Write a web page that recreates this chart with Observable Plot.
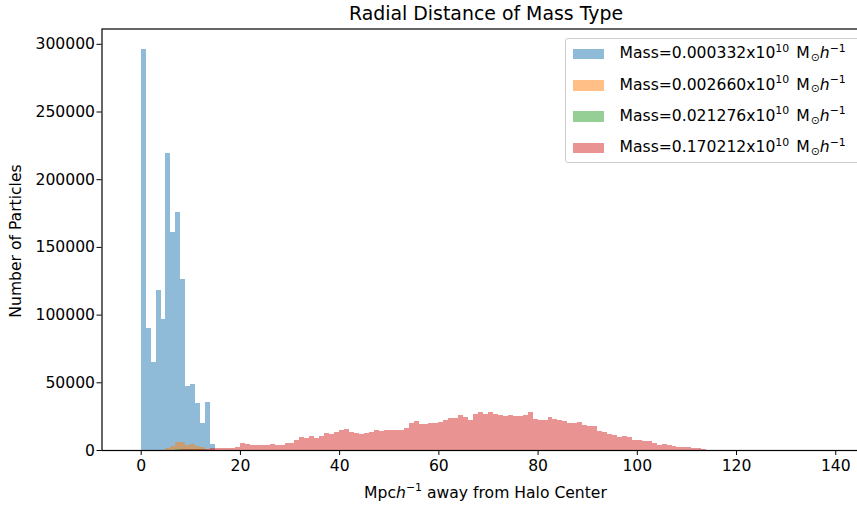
<!DOCTYPE html>
<html><head><meta charset="utf-8">
<script src="https://cdn.jsdelivr.net/npm/d3@7"></script>
<script src="https://cdn.jsdelivr.net/npm/@observablehq/plot@0.6"></script>
<style>
html,body{margin:0;padding:0;background:#fff;overflow:hidden;width:857px;height:509px}
body{font-family:"DejaVu Sans",sans-serif;color:#000;position:relative}
#title{height:24px;position:relative}
#title span{position:absolute;left:486px;top:4px;transform:translateX(-50%);font-size:18.9px;white-space:nowrap;line-height:1}
#chart{height:456px;width:870px;overflow:hidden}
#chart svg{display:block;max-width:none !important;width:870px !important;height:456px !important}
#xlabel{height:29px;position:relative}
#xlabel span{position:absolute;left:485.5px;top:6px;transform:translateX(-50%);font-size:15.6px;white-space:nowrap;line-height:1}
#ylabel{position:absolute;left:17px;top:241px;transform:translate(-50%,-50%) rotate(-90deg);font-size:15.6px;white-space:nowrap;line-height:1}
#legend{position:absolute;left:565px;top:37.5px;width:320px;height:125px;border:1px solid #ccc;border-radius:3px;background:rgba(255,255,255,0.8);box-sizing:border-box}
.row{position:absolute;left:0;height:0}
.patch{position:absolute;left:7px;width:30.6px;height:10.7px}
.ltext{position:absolute;left:53.5px;font-size:15.6px;line-height:1;white-space:nowrap}
sup,sub{font-size:70%;line-height:0;vertical-align:0;position:relative}
sup{top:-0.62em}
sub{top:0.22em;margin-left:1px}
.sp{margin-left:2px}
</style>
</head><body>
<div id="title"><span>Radial Distance of Mass Type</span></div>
<div id="chart"></div>
<div id="xlabel"><span>Mpc<i>h</i><sup>−1</sup> away from Halo Center</span></div>
<div id="ylabel">Number of Particles</div>
<div id="legend"></div>
<script>
// ---- data (bin width = 1 Mpc/h, counts per bin) ----
const blueStart = 0;
const blueCounts = [296500, 89900, 65200, 118200, 96500, 219100, 161200, 175500, 126000, 47300, 48500, 35000, 19700, 35700, 4200];

const orangeStart = 4;
const orangeCounts = [300, 1400, 3200, 6000, 6000, 3500, 4500, 3300, 1900, 900, 400];

const greenStart = 6;
const greenCounts = [300, 600, 1000, 900, 1000, 800, 600, 300];

const redStart = 7;
const redCounts = [300, 500, 700, 900, 1000, 1000, 1100, 1300,
  1700, 1700, 1700, 1700, 2400, 5500, 4400, 3400, 3400, 3400, 3400, 4500, 3400, 3400,
  5400, 5500, 7300, 9500, 8700, 10300, 8900, 10300, 12300, 11600, 13000, 14800, 15500,
  13500, 12300, 11600, 12300, 13000, 14800, 13800, 14500, 14500, 14500, 14500, 16300,
  20000, 21400, 19300, 19300, 19700, 19700, 20400, 22200, 23900, 23900, 25500, 24600,
  22500, 26300, 28000, 26500, 28000, 26500, 25800, 25300, 25500, 24900, 24900, 26100,
  28200, 23200, 22200, 22200, 24600, 23200, 22500, 21700, 20200, 20200, 20400, 18500,
  17900, 17700, 14000, 13300, 11900, 11100, 9800, 10300, 9700, 7400, 7300, 6700, 6500,
  5400, 3800, 4600, 3500, 2700, 2000, 2000, 2000, 1200, 1200, 1000];

const seriesNames = [
  "Mass=0.000332x10<sup>10</sup><span class='sp'> </span>M<sub>⊙</sub><i>h</i><sup>−1</sup>",
  "Mass=0.002660x10<sup>10</sup><span class='sp'> </span>M<sub>⊙</sub><i>h</i><sup>−1</sup>",
  "Mass=0.021276x10<sup>10</sup><span class='sp'> </span>M<sub>⊙</sub><i>h</i><sup>−1</sup>",
  "Mass=0.170212x10<sup>10</sup><span class='sp'> </span>M<sub>⊙</sub><i>h</i><sup>−1</sup>"
];
const seriesColors = ["#1f77b4", "#ff7f0e", "#2ca02c", "#d62728"];

const xTicks = [0, 20, 40, 60, 80, 100, 120, 140];
const yTicks = [0, 50000, 100000, 150000, 200000, 250000, 300000];

// ---- build bins ----
function bins(start, counts) {
  return counts.map((c, i) => ({x1: start + i, x2: start + i + 1, y: c}));
}
const series = [
  bins(blueStart, blueCounts),
  bins(orangeStart, orangeCounts),
  bins(greenStart, greenCounts),
  bins(redStart, redCounts)
];

const chart = Plot.plot({
  width: 870,
  height: 456,
  marginLeft: 101.5,
  marginRight: 2,
  marginTop: 4.5,
  marginBottom: 30,
  style: {fontFamily: "DejaVu Sans", fontSize: "15.6px", color: "black", background: "white"},
  x: {domain: [-7.9, 146.6], label: null},
  y: {domain: [0, 311300], label: null},
  marks: [
    ...series.map((d, k) => Plot.rectY(d, {
      x1: "x1", x2: "x2", y: "y",
      fill: seriesColors[k], fillOpacity: 0.5, shapeRendering: "crispEdges"
    })),
    Plot.axisX({ticks: xTicks, tickSize: 5, tickPadding: 4, tickFormat: d => String(d), label: null}),
    Plot.axisY({ticks: yTicks, tickSize: 5, tickPadding: 2, tickFormat: d => String(d), label: null}),
    Plot.frame({stroke: "black", strokeWidth: 1.2})
  ]
});
document.getElementById("chart").appendChild(chart);

// ---- legend ----
const legend = document.getElementById("legend");
const rowCenters = [15.5, 47, 78.3, 109.5];
seriesNames.forEach((name, k) => {
  const row = document.createElement("div");
  row.className = "row";
  row.style.top = rowCenters[k] + "px";
  const p = document.createElement("div");
  p.className = "patch";
  p.style.top = "-5.35px";
  p.style.background = seriesColors[k];
  p.style.opacity = 0.5;
  const t = document.createElement("div");
  t.className = "ltext";
  t.style.top = "-7.7px";
  t.innerHTML = name;
  row.appendChild(p);
  row.appendChild(t);
  legend.appendChild(row);
});
</script>
</body></html>
